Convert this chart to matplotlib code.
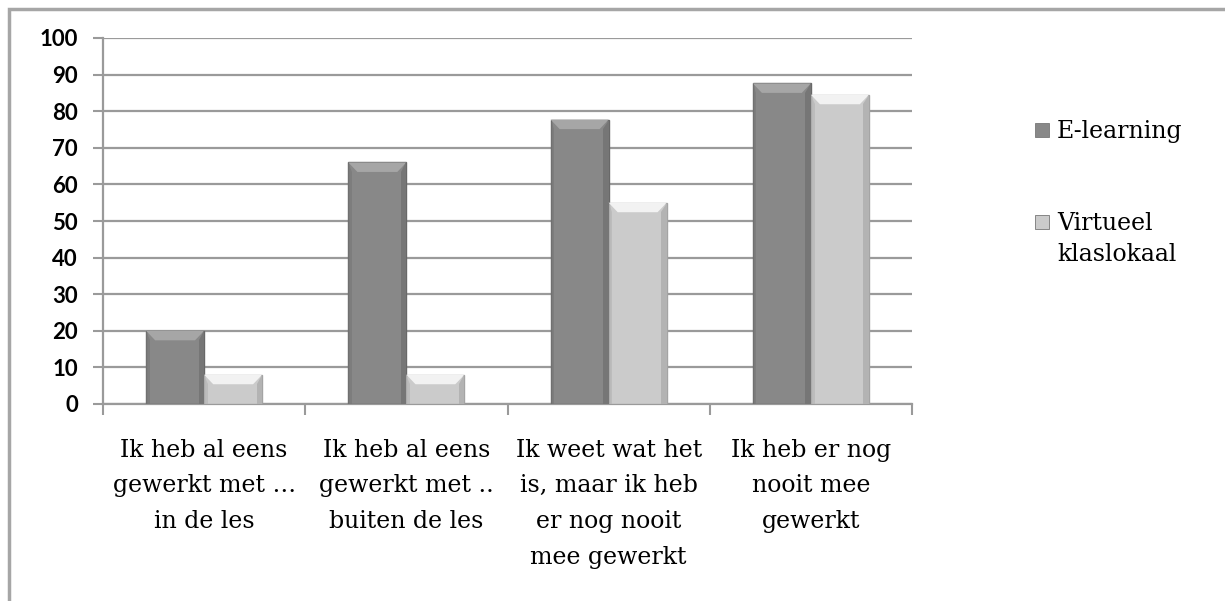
import numpy as np
import matplotlib.pyplot as plt
from matplotlib.patches import Polygon, Rectangle

categories = ["Ik heb al eens\ngewerkt met \u2026\nin de les",
              "Ik heb al eens\ngewerkt met ..\nbuiten de les",
              "Ik weet wat het\nis, maar ik heb\ner nog nooit\nmee gewerkt",
              "Ik heb er nog\nnooit mee\ngewerkt"]
elearning = [20, 66, 77.7, 87.6]
virtueel = [8, 8, 55, 84.5]
series_names = ["E-learning", "Virtueel\nklaslokaal"]
yticks = list(range(0, 101, 10))

serif = "DejaVu Serif"
sans = "Lato"

fig = plt.figure(figsize=(12.25, 6.01), dpi=100)
ax = fig.add_axes([103/1225, 1-404/601, (912-103)/1225, (404-38)/601])

# chart border (clipped at right / bottom like the source)
fig.patches.append(Rectangle((9/1225, -0.1), 1.2, 1 - 9/601 + 0.1, transform=fig.transFigure,
                             fill=False, ec="#a6a6a6", lw=2.5, zorder=0))

x = np.arange(len(categories))
w = 0.287
b1 = ax.bar(x - w/2, elearning, w, color="#888888", ec="#686868", lw=1.0, zorder=3)
b2 = ax.bar(x + w/2, virtueel, w, color="#cbcbcb", ec="#a4a4a4", lw=1.0, zorder=3)

# bevel effect on bar tops and sides
def bevel(bars, top_col, side_col):
    for r in bars:
        x0, y0 = r.get_x(), r.get_y()
        bw, bh = r.get_width(), r.get_height()
        dx, dy = 0.045, 2.6
        dy = min(dy, bh * 0.5)
        top = y0 + bh
        ax.add_patch(Polygon([(x0, top), (x0 + bw, top), (x0 + bw - dx, top - dy), (x0 + dx, top - dy)],
                             closed=True, fc=top_col, ec="none", zorder=4))
        ax.add_patch(Polygon([(x0 + bw, top), (x0 + bw, y0), (x0 + bw - dx * 0.6, y0), (x0 + bw - dx * 0.6, top - dy)],
                             closed=True, fc=side_col, ec="none", zorder=4))
        ax.add_patch(Polygon([(x0, top), (x0, y0), (x0 + dx * 0.4, y0), (x0 + dx * 0.4, top - dy)],
                             closed=True, fc=side_col, ec="none", alpha=0.6, zorder=4))

bevel(b1, "#a6a6a6", "#767676")
bevel(b2, "#f2f2f2", "#b3b3b3")

ax.set_ylim(0, 100)
ax.set_xlim(-0.5, len(categories) - 0.5)
ax.set_yticks(yticks)
ax.set_yticklabels([str(t) for t in yticks], fontfamily=sans, fontsize=16, fontweight="bold")
ax.yaxis.grid(True, color="#9a9a9a", lw=1.6, zorder=0)
ax.set_axisbelow(True)
ax.tick_params(axis="y", length=7, width=1.5, color="#9a9a9a", pad=11, labelcolor="black")

ax.set_xticks(np.arange(len(categories) + 1) - 0.5)
ax.set_xticklabels([])
ax.tick_params(axis="x", length=8, width=1.5, color="#9a9a9a")
for i, lab in enumerate(categories):
    ax.text(i, -9.5, lab, ha="center", va="top", fontfamily=serif, fontsize=17, linespacing=1.7)

for s in ["top", "right"]:
    ax.spines[s].set_visible(False)
for s in ["left", "bottom"]:
    ax.spines[s].set_color("#9a9a9a")
    ax.spines[s].set_linewidth(1.6)

# legend
leg_cols = ["#888888", "#cbcbcb"]
leg_y = [130, 222]
for name, col, yy in zip(series_names, leg_cols, leg_y):
    fig.patches.append(Rectangle((1035/1225, 1 - (yy + 7)/601), 14/1225, 14/601, transform=fig.transFigure,
                                 fc=col, ec="#777777", lw=0.6))
    fig.text(1057/1225, 1 - (yy - 10)/601, name, ha="left", va="top", fontfamily=serif, fontsize=17, linespacing=1.45)

fig.savefig("out.png", dpi=100, facecolor="white")
